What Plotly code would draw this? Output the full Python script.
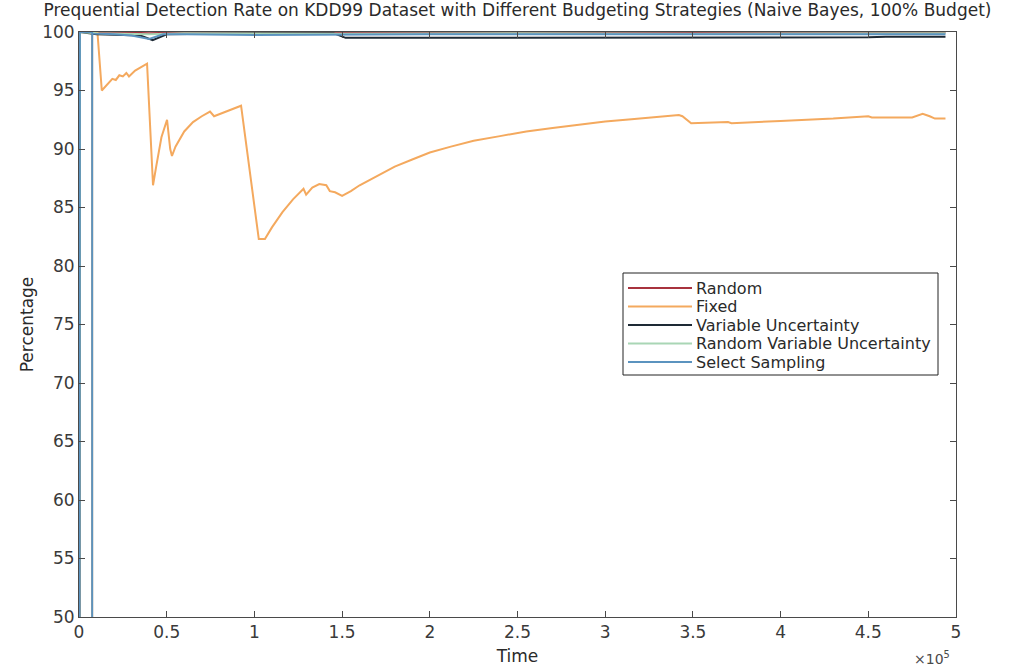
import plotly.graph_objects as go

# Prequential detection rate (%) over time (number of instances) per budgeting strategy
random_t = [0, 500, 5000, 20000, 40000, 60000, 100000, 150000, 200000, 300000, 400000, 494000]
random_v = [0, 100, 100, 99.95, 99.9, 99.95, 99.95, 99.9, 99.95, 99.95, 99.9, 99.95]

fixed_t = [0, 7500, 7500, 10500, 13000, 16000, 19000, 21000, 23000, 25000, 27000, 28500,
           32000, 38800, 42200, 44000, 47000, 50200, 52000, 53000, 55000, 60000, 65000,
           70000, 74700, 77000, 82000, 88000, 92400, 102500, 106000, 110000, 116000,
           122000, 128000, 129500, 133000, 137000, 141000, 143000, 146000, 150000,
           155000, 160000, 170000, 180000, 190000, 200000, 212000, 225000, 240000,
           255000, 270000, 285000, 300000, 315000, 330000, 342000, 344000, 349000,
           370000, 372000, 400000, 430000, 450000, 452000, 475000, 481000, 485000,
           488000, 494000]
fixed_v = [0, 0, 100, 100, 95.0, 95.5, 96.0, 95.9, 96.3, 96.2, 96.5, 96.2,
           96.7, 97.3, 86.9, 88.5, 91.0, 92.5, 90.0, 89.4, 90.2, 91.5, 92.3,
           92.8, 93.2, 92.8, 93.1, 93.4, 93.7, 82.3, 82.3, 83.3, 84.6,
           85.7, 86.6, 86.1, 86.7, 87.0, 86.9, 86.4, 86.3, 86.0,
           86.4, 86.9, 87.7, 88.5, 89.1, 89.7, 90.2, 90.7, 91.1,
           91.5, 91.8, 92.1, 92.35, 92.55, 92.75, 92.9, 92.8, 92.2,
           92.3, 92.2, 92.4, 92.6, 92.8, 92.7, 92.7, 93.0, 92.8,
           92.6, 92.6]

var_unc_t = [0, 500, 10000, 35000, 42000, 50000, 100000, 145000, 152000, 250000, 350000, 450000, 460000, 494000]
var_unc_v = [0, 100, 99.8, 99.7, 99.3, 99.8, 99.9, 99.9, 99.5, 99.5, 99.55, 99.55, 99.6, 99.6]

rand_var_unc_t = [0, 500, 10000, 40000, 60000, 150000, 250000, 350000, 494000]
rand_var_unc_v = [0, 100, 99.9, 99.8, 99.9, 99.85, 99.9, 99.85, 99.9]

select_t = [0, 500, 7500, 7500, 7500, 20000, 30000, 40000, 48000, 60000, 100000,
            200000, 300000, 400000, 494000]
select_v = [0, 100, 100, 0, 99.9, 99.8, 99.7, 99.4, 99.8, 99.8, 99.75,
            99.8, 99.8, 99.75, 99.8]

x_ticks = [0, 50000, 100000, 150000, 200000, 250000, 300000, 350000, 400000, 450000, 500000]
x_tick_text = ["0", "0.5", "1", "1.5", "2", "2.5", "3", "3.5", "4", "4.5", "5"]
y_ticks = [50, 55, 60, 65, 70, 75, 80, 85, 90, 95, 100]

series = [
    ("Random", random_t, random_v, "#A8323E"),
    ("Fixed", fixed_t, fixed_v, "#F4A95E"),
    ("Variable Uncertainty", var_unc_t, var_unc_v, "#1E2A35"),
    ("Random Variable Uncertainty", rand_var_unc_t, rand_var_unc_v, "#A9D6B5"),
    ("Select Sampling", select_t, select_v, "#5B93BF"),
]

FONT = "DejaVu Sans"
TEXT = "#2a2a2a"
W, H = 1014, 670
M_L, M_R, M_T, M_B = 79, 58, 32, 53
PLOT_W = W - M_L - M_R
PLOT_H = H - M_T - M_B


def px_to_paper_x(px):
    return (px - M_L) / PLOT_W


def px_to_paper_y(py):
    return (H - M_B - py) / PLOT_H


fig = go.Figure()
for name, t, v, color in series:
    fig.add_trace(go.Scatter(x=t, y=v, mode="lines", name=name, showlegend=False,
                             line=dict(color=color, width=2)))

axis_common = dict(showline=True, linecolor="#4a4a4a", linewidth=1, mirror="ticks",
                   ticks="inside", ticklen=6, tickcolor="#4a4a4a", showgrid=False,
                   zeroline=False, automargin=False,
                   tickfont=dict(family=FONT, size=17, color="#3a3a3a"))

fig.update_xaxes(range=[0, 500000], tickvals=x_ticks, ticktext=x_tick_text,
                 title=dict(text="Time", font=dict(family=FONT, size=17, color=TEXT),
                            standoff=8),
                 **axis_common)
fig.update_yaxes(range=[50, 100], tickvals=y_ticks,
                 title=dict(text="Percentage", font=dict(family=FONT, size=17, color=TEXT),
                            standoff=4),
                 **axis_common)

# Boxed legend with long line samples
box_l, box_r, box_t, box_b = 623, 938, 273, 375
fig.add_shape(type="rect", xref="paper", yref="paper",
              x0=px_to_paper_x(box_l), x1=px_to_paper_x(box_r),
              y0=px_to_paper_y(box_b), y1=px_to_paper_y(box_t),
              line=dict(color="#222222", width=1), fillcolor="white", layer="above")
row0, row_step = 288, 18.5
for i, (name, _, _, color) in enumerate(series):
    py = row0 + i * row_step
    fig.add_shape(type="line", xref="paper", yref="paper",
                  x0=px_to_paper_x(628), x1=px_to_paper_x(692),
                  y0=px_to_paper_y(py), y1=px_to_paper_y(py),
                  line=dict(color=color, width=2), layer="above")
    fig.add_annotation(text=name, xref="paper", yref="paper",
                       x=px_to_paper_x(694), y=px_to_paper_y(py),
                       xanchor="left", yanchor="middle", showarrow=False,
                       font=dict(family=FONT, size=16, color=TEXT))

fig.add_annotation(text="×10<sup>5</sup>", xref="paper", yref="paper",
                   x=px_to_paper_x(932), y=px_to_paper_y(658),
                   xanchor="center", yanchor="middle", showarrow=False,
                   font=dict(family=FONT, size=14, color="#4a4a4a"))

fig.update_layout(
    width=W, height=H,
    margin=dict(l=M_L, r=M_R, t=M_T, b=M_B),
    paper_bgcolor="white", plot_bgcolor="white",
    title=dict(text="Prequential Detection Rate on KDD99 Dataset with Different Budgeting Strategies (Naive Bayes, 100% Budget)",
               x=0.5, xref="paper", xanchor="center", y=0.985, yanchor="middle",
               font=dict(family=FONT, size=17, color=TEXT)),
    showlegend=False,
)

fig.write_html("out.html")
